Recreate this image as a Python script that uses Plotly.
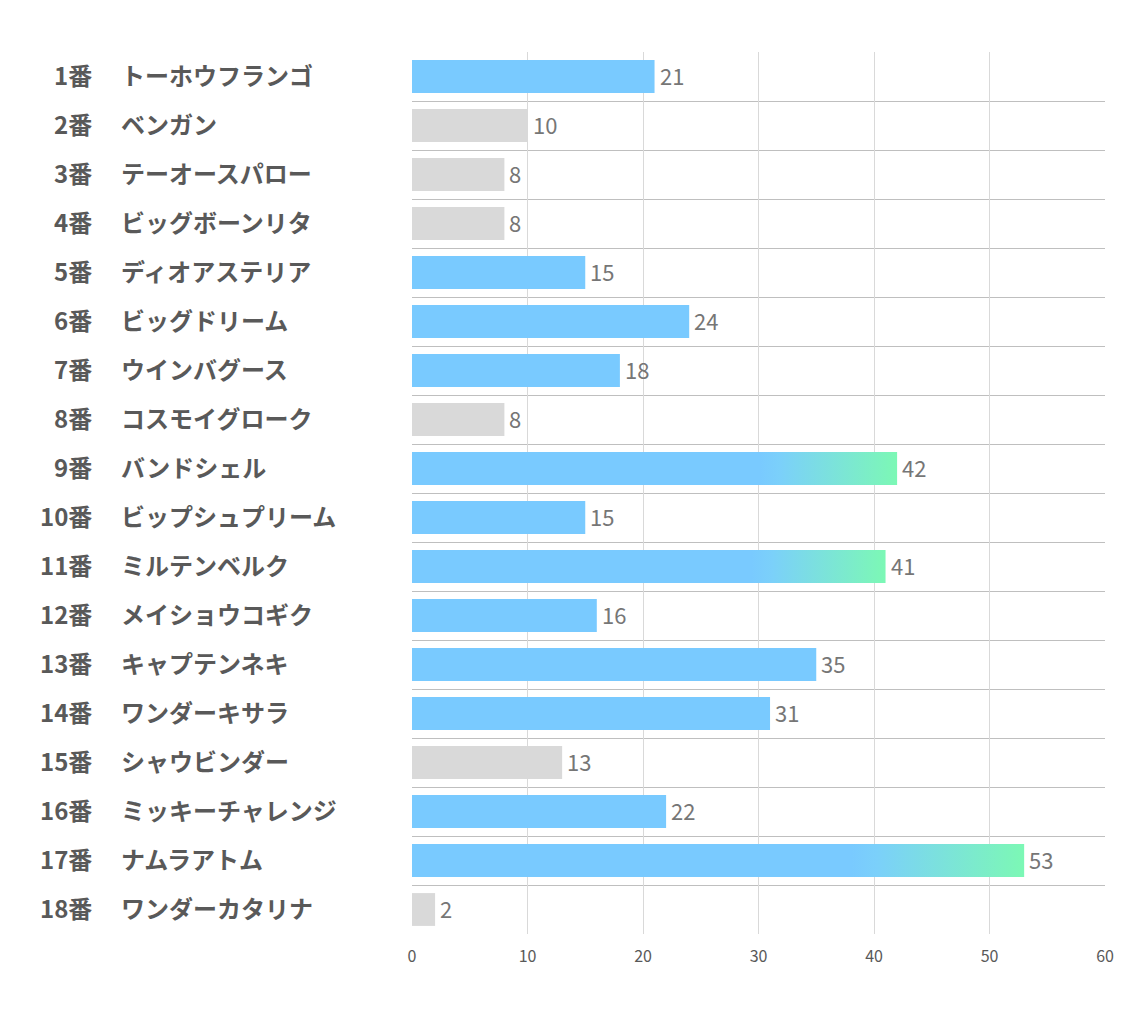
import plotly.graph_objects as go

numbers = [f"{i}番" for i in range(1, 19)]
names = ["トーホウフランゴ", "ベンガン", "テーオースパロー", "ビッグボーンリタ", "ディオアステリア",
         "ビッグドリーム", "ウインバグース", "コスモイグローク", "バンドシェル", "ビップシュプリーム",
         "ミルテンベルク", "メイショウコギク", "キャプテンネキ", "ワンダーキサラ", "シャウビンダー",
         "ミッキーチャレンジ", "ナムラアトム", "ワンダーカタリナ"]
values = [21, 10, 8, 8, 15, 24, 18, 8, 42, 15, 41, 16, 35, 31, 13, 22, 53, 2]
# category of each bar: 'g' gray, 'b' blue, 't' top (gradient)
kinds = ["b", "g", "g", "g", "b", "b", "b", "g", "t", "b", "t", "b", "b", "b", "g", "b", "t", "g"]
x_ticks = [0, 10, 20, 30, 40, 50, 60]

BLUE = "#79CAFF"
GRAY = "#D9D9D9"
GREEN = "#7CF8B5"
BAR_W = 0.67
GRAD_FRAC = 0.28

ypos = list(range(1, len(values) + 1))

solid_x = []
solid_c = []
for v, k in zip(values, kinds):
    if k == "t":
        solid_x.append(v * (1 - GRAD_FRAC))
        solid_c.append(BLUE)
    elif k == "b":
        solid_x.append(v)
        solid_c.append(BLUE)
    else:
        solid_x.append(v)
        solid_c.append(GRAY)

fig = go.Figure()
fig.add_trace(go.Bar(
    x=solid_x, y=ypos, orientation="h", width=BAR_W,
    marker=dict(color=solid_c, line=dict(width=0)),
    hoverinfo="skip", showlegend=False,
))

for v, k, y in zip(values, kinds, ypos):
    if k != "t":
        continue
    x0 = v * (1 - GRAD_FRAC) - 0.15
    fig.add_trace(go.Scatter(
        x=[x0, v, v, x0, x0],
        y=[y - BAR_W / 2, y - BAR_W / 2, y + BAR_W / 2, y + BAR_W / 2, y - BAR_W / 2],
        mode="lines", line=dict(width=0), fill="toself",
        fillgradient=dict(type="horizontal", colorscale=[[0, BLUE], [0.15, "#7BD0FA"], [1, GREEN]]),
        hoverinfo="skip", showlegend=False,
    ))

annotations = []
for v, y in zip(values, ypos):
    annotations.append(dict(x=v, y=y, xref="x", yref="y", text=str(v), showarrow=False,
                            xanchor="left", yanchor="middle", xshift=3, yshift=2,
                            font=dict(family="Noto Sans CJK JP", size=22, color="#767676")))
for y, n, nm in zip(ypos, numbers, names):
    annotations.append(dict(x=-0.4589, y=y, xref="paper", yref="y", text=n, showarrow=False,
                            xanchor="right", yanchor="middle", yshift=2,
                            font=dict(family="Noto Sans CJK JP", size=24, color="#595959", weight="bold")))
    annotations.append(dict(x=-0.4230, y=y, xref="paper", yref="y", text=nm, showarrow=False,
                            xanchor="left", yanchor="middle", yshift=2,
                            font=dict(family="Noto Sans CJK JP", size=24, color="#595959", weight="bold")))

fig.update_layout(
    width=1134, height=1020,
    margin=dict(l=412, r=29, t=52, b=86),
    paper_bgcolor="white", plot_bgcolor="white",
    annotations=annotations,
    xaxis=dict(range=[0, 60], tickvals=x_ticks, showgrid=True, gridcolor="#D9D9D9", gridwidth=1,
               zeroline=False, showline=False, ticks="", ticklabelstandoff=11,
               tickfont=dict(family="Noto Sans CJK JP", size=16, color="#595959")),
    yaxis=dict(range=[18.5, 0.5], showticklabels=False, showgrid=False, zeroline=False, ticks="",
               minor=dict(tickvals=[i + 0.5 for i in range(0, 19)], showgrid=True,
                          gridcolor="#BFBFBF", gridwidth=1, ticks="")),
)

fig.write_html("out.html")
